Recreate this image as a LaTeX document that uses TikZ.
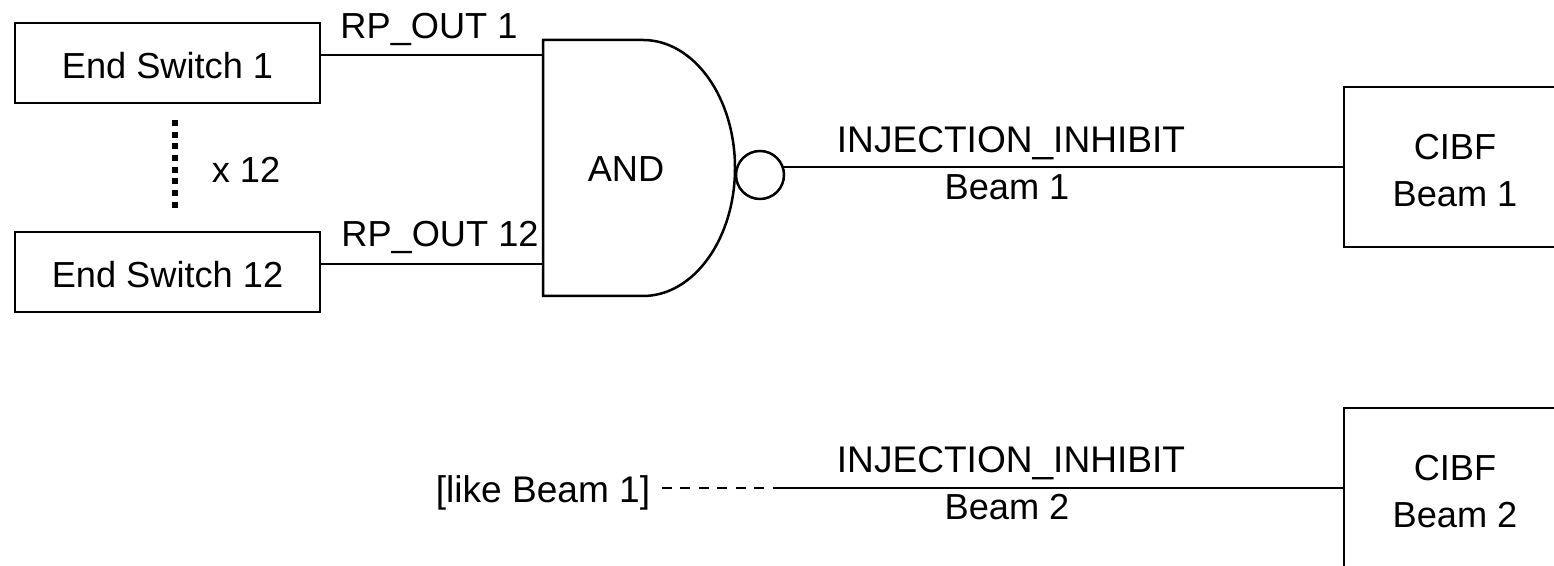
\documentclass[tikz,border=0pt]{standalone}
\usepackage{fontspec}
\setmainfont{Liberation Sans}
\tikzset{
	wire/.style={line width=0.05cm},
	label/.style={anchor=base,inner sep=0pt,font=\fontsize{20.6}{26.7}\selectfont},
	widelabel/.style={label,font=\fontsize{21.1}{26.7}\selectfont},
	switchbox/.style={draw,line width=0.05cm,minimum width=6.1cm,minimum height=1.6cm,inner sep=0pt,outer sep=0pt,text height=0.64cm,text depth=0pt,font=\fontsize{20.6}{26.7}\selectfont},
	cibfbox/.style={draw,line width=0.05cm,minimum width=4.44cm,minimum height=3.2cm,inner sep=0pt,outer sep=0pt,align=center,text height=1.58cm,text depth=0pt,font=\fontsize{20.6}{26.7}\selectfont},
	invert/.style={circle,draw,line width=0.05cm,minimum size=0.96cm,inner sep=0pt,outer sep=0pt},
}
\begin{document}
\begin{tikzpicture}
	\useasboundingbox (0,0) rectangle (31.08,11.32);
	\node[switchbox] (switcha) at (3.35,10.06) {End Switch 1};
	\node[switchbox] (switchb) at (3.35,5.88) {End Switch 12};
	\node[cibfbox] (cibfa) at (29.1,7.98) {CIBF\\Beam 1};
	\node[cibfbox] (cibfb) at (29.1,1.56) {CIBF\\Beam 2};
	\node[invert] (inv) at (15.2,7.82) {};
	\coordinate (gatea) at (10.86,10.22);
	\coordinate (gateb) at (10.86,6.04);
	\coordinate (dashend) at (15.46,1.56);
	\coordinate (dotsa) at (3.5,8.92);
	\coordinate (dotsb) at (3.5,7.12);
	\draw[wire] (10.86,10.52) -- (12.86,10.52) arc[start angle=90,end angle=-90,x radius=1.84cm,y radius=2.56cm] -- (10.86,5.4) -- cycle;
	\draw[wire] (switcha.east |- gatea) -- (gatea);
	\draw[wire] (switchb.east |- gateb) -- (gateb);
	\draw[wire] (inv.19.47 |- cibfa.west) -- (cibfa.west);
	\draw[wire] (dashend) -- (cibfb.west);
	\draw[line width=0.12cm,dash pattern=on 0.12cm off 0.114cm] (dotsa) -- (dotsb);
	\node[label] (rpouta) at (8.58,10.54) {RP\_OUT 1};
	\node[label] (rpoutb) at (8.8,6.38) {RP\_OUT 12};
	\node[label] (times) at (4.92,7.66) {x 12};
	\node[label] (andlabel) at (12.52,7.68) {AND};
	\node[widelabel] (inhibita) at (20.22,8.26) {INJECTION\_INHIBIT};
	\node[label] (beama) at (20.14,7.32) {Beam 1};
	\node[widelabel] (inhibitb) at (20.22,1.86) {INJECTION\_INHIBIT};
	\node[label] (beamb) at (20.14,0.92) {Beam 2};
	\node[widelabel,inner xsep=0.22cm] (like) at (10.86,1.26) {[like Beam 1]};
	\draw[wire,dash pattern=on 0.2cm off 0.17cm] (like.east |- dashend) -- (dashend);
\end{tikzpicture}
\end{document}
